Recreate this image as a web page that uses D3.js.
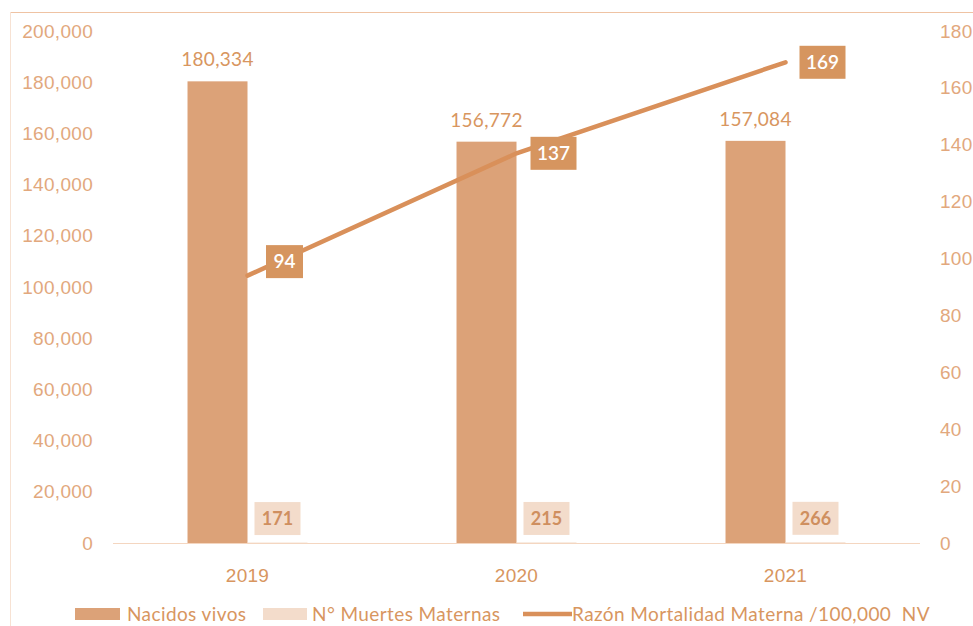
<!DOCTYPE html>
<html>
<head>
<meta charset="utf-8">
<script src="https://cdn.jsdelivr.net/npm/d3@7"></script>
<style>
  body { margin: 0; background: #fff; }
  svg { display: block; font-family: Lato, "Open Sans", sans-serif; }
</style>
</head>
<body>
<svg width="973" height="626"></svg>
<script>
const years = ["2019", "2020", "2021"];
const nacidos = [180334, 156772, 157084];
const muertes = [171, 215, 266];
const razon = [94, 137, 169];
const leftTicks = [0, 20000, 40000, 60000, 80000, 100000, 120000, 140000, 160000, 180000, 200000];
const rightTicks = [0, 20, 40, 60, 80, 100, 120, 140, 160, 180];

const barColor = "#dca278";
const lightColor = "#f3dccb";
const lineColor = "#d9905a";
const textColor = "#d8965f";
const axisColor = "#e2a87d";

const svg = d3.select("svg");

// frame
svg.append("line").attr("x1", 10).attr("x2", 973).attr("y1", 12.5).attr("y2", 12.5)
  .attr("stroke", "#efc3a3").attr("stroke-width", 1.2);
svg.append("line").attr("x1", 10.5).attr("x2", 10.5).attr("y1", 12).attr("y2", 626)
  .attr("stroke", "#f7e2d3");

const x = d3.scaleBand().domain(years).range([113, 920])
  .paddingInner(0.554).paddingOuter(0.277);
const xSub = d3.scaleBand().domain(["nacidos", "muertes"]).range([0, x.bandwidth()]);
const yL = d3.scaleLinear().domain([0, 200000]).range([543, 31]);
const yR = d3.scaleLinear().domain([0, 180]).range([543, 31]);
const fmt = d3.format(",");

// axes
const axL = svg.append("g").attr("transform", "translate(93,0)")
  .call(d3.axisLeft(yL).tickValues(leftTicks).tickFormat(fmt).tickSize(0).tickPadding(0));
const axR = svg.append("g").attr("transform", "translate(940,0)")
  .call(d3.axisRight(yR).tickValues(rightTicks).tickSize(0).tickPadding(0));
const axX = svg.append("g").attr("transform", "translate(0,543)")
  .call(d3.axisBottom(x).tickSize(0).tickPadding(26));
[axL, axR, axX].forEach(g => {
  g.select(".domain").remove();
  g.selectAll("text").attr("fill", axisColor).style("font-size", "19px").style("letter-spacing", "0.3px");
});
axX.selectAll("text").attr("fill", textColor);

svg.append("line").attr("x1", 113).attr("x2", 920).attr("y1", 543.5).attr("y2", 543.5)
  .attr("stroke", "#f4d6c0").attr("stroke-width", 1.2);

// bars
svg.append("g").selectAll("rect")
  .data(years)
  .join("rect")
  .attr("x", d => x(d) + xSub("nacidos"))
  .attr("width", xSub.bandwidth())
  .attr("y", (d, i) => yL(nacidos[i]))
  .attr("height", (d, i) => yL(0) - yL(nacidos[i]))
  .attr("fill", barColor);

svg.append("g").selectAll("text")
  .data(years)
  .join("text")
  .attr("x", d => x(d) + xSub("nacidos") + xSub.bandwidth() / 2)
  .attr("y", (d, i) => yL(nacidos[i]) - 15)
  .attr("text-anchor", "middle")
  .attr("fill", textColor)
  .style("font-size", "19px")
  .style("letter-spacing", "0.3px")
  .text((d, i) => fmt(nacidos[i]));

svg.append("g").selectAll("rect")
  .data(years)
  .join("rect")
  .attr("x", d => x(d) + xSub("muertes"))
  .attr("width", xSub.bandwidth())
  .attr("y", (d, i) => yL(muertes[i]))
  .attr("height", (d, i) => yL(0) - yL(muertes[i]))
  .attr("fill", lightColor);

const mLab = svg.append("g").selectAll("g")
  .data(years)
  .join("g")
  .attr("transform", (d, i) =>
    `translate(${x(d) + xSub("muertes") + xSub.bandwidth() / 2},${yL(muertes[i]) - 24})`);
mLab.append("rect").attr("x", -23).attr("y", -16.5).attr("width", 46).attr("height", 33)
  .attr("fill", lightColor);
mLab.append("text").attr("text-anchor", "middle").attr("dy", "0.35em")
  .attr("fill", "#cf8f5f").style("font-size", "18px").style("font-weight", "bold")
  .text((d, i) => muertes[i]);

// line
const cx = d => x(d) + x.bandwidth() / 2;
svg.append("path")
  .datum(years)
  .attr("fill", "none")
  .attr("stroke", lineColor)
  .attr("stroke-width", 4.5)
  .attr("stroke-linecap", "round")
  .attr("d", d3.line().x(cx).y((d, i) => yR(razon[i])));

const rLab = svg.append("g").selectAll("g")
  .data(years)
  .join("g")
  .attr("transform", (d, i) =>
    `translate(${cx(d) + 37},${yR(razon[i]) - (i === 0 ? 14 : 0)})`);
rLab.append("rect")
  .attr("x", (d, i) => String(razon[i]).length > 2 ? -23 : -18.5)
  .attr("width", (d, i) => String(razon[i]).length > 2 ? 46 : 37)
  .attr("y", -16.5).attr("height", 33)
  .attr("fill", "#d6955f");
rLab.append("text").attr("text-anchor", "middle").attr("dy", "0.35em")
  .attr("fill", "#fff").style("font-size", "19px").style("font-weight", "600")
  .text((d, i) => razon[i]);

// legend
const legend = svg.append("g").style("font-size", "19px").style("letter-spacing", "0.4px").attr("fill", textColor);
legend.append("rect").attr("x", 75).attr("y", 608).attr("width", 45).attr("height", 12).attr("fill", barColor);
legend.append("text").attr("x", 127).attr("y", 614).attr("dy", "0.35em").text("Nacidos vivos");
legend.append("rect").attr("x", 263).attr("y", 608).attr("width", 44).attr("height", 12).attr("fill", lightColor);
legend.append("text").attr("x", 312).attr("y", 614).attr("dy", "0.35em").text("N° Muertes Maternas");
legend.append("line").attr("x1", 523).attr("x2", 572).attr("y1", 614).attr("y2", 614)
  .attr("stroke", lineColor).attr("stroke-width", 4.5);
legend.append("text").attr("x", 572).attr("y", 614).attr("dy", "0.35em")
  .attr("xml:space", "preserve").style("white-space", "pre")
  .text("Razón Mortalidad Materna /100,000  NV");
</script>
</body>
</html>
